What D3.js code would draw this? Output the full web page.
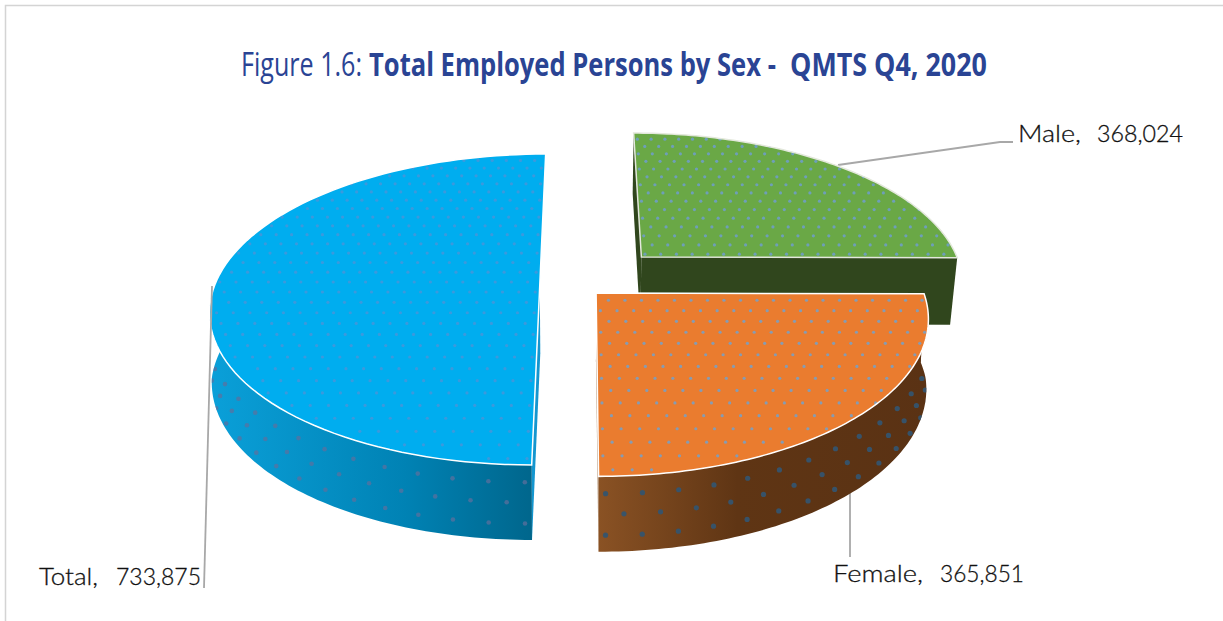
<!DOCTYPE html>
<html><head><meta charset="utf-8">
<script src="https://cdn.jsdelivr.net/npm/d3@7"></script>
<style>html,body{margin:0;padding:0;background:#fff}svg{display:block}</style></head>
<body><svg id="c" width="1223" height="621"></svg>
<script>
const categories = ["Male", "Female", "Total"];
const values = [368024, 365851, 733875];
const colors = ["#6aa846", "#ea7c2f", "#00adef"];
const valueLabels = ["368,024", "365,851", "733,875"];

const W = 1223, H = 621;
const svg = d3.select("#c");
const defs = svg.append("defs");

// camera: ground-plane homography with one vanishing point
const vpX = 583, horizonY0 = 285, A = 151.6, B = 325, K = 0.1575;
const offsets = [[0.185, 0.19], [0.04, -0.053], [-0.133, 0]];
const project = (u, v, z) => {
  const w = 1 + K * v;
  const x = vpX + B * u / w;
  const y = horizonY0 - A * v / w;
  const depth = z * (68.3 - 6.7 * v);
  const shrink = Math.max(0.006, Math.min(0.019, 0.012 + 0.04 * v));
  return [vpX + (x - vpX) * (1 - shrink * z), y + depth];
};

const arcs = d3.pie().sort(null).value(d => d)(values);
const line = d3.line();
const WALL_SPAN = 1.7; // half-width, in radians, of the visible outer wall around the near point

function ringPoints(a0, a1, off, z) {
  const n = 90;
  return d3.range(n + 1).map(i => {
    const a = a0 + (a1 - a0) * i / n;
    return project(off[0] + Math.sin(a), off[1] + Math.cos(a), z);
  });
}

const wallGrad = [
  null,
  [["#8a5224", 0], ["#5f3514", .42], ["#5a3214", 1], 598, 930],
  [["#0a9fd8", 0], ["#0082b4", .6], ["#00668c", 1], 215, 533]
];
wallGrad.forEach((g, i) => {
  if (!g) return;
  const lg = defs.append("linearGradient").attr("id", "wall" + i)
    .attr("gradientUnits", "userSpaceOnUse")
    .attr("x1", g[3]).attr("x2", g[4]).attr("y1", 0).attr("y2", 0);
  g.slice(0, 3).forEach(s => lg.append("stop").attr("offset", s[1]).attr("stop-color", s[0]));
});
const wallFill = ["#30461d", "url(#wall1)", "url(#wall2)"];
const sideFill = ["#30461d", "#a9825f", "#1496cf"];
const topDot = ["#6f9dc4", "#7c9ec0", "#5b8fd2"];
const wallDot = ["#30461d", "#35546e", "#5f6f9c"];

// frame
svg.append("path").attr("d", `M5.5,${H}V5.5H${W}`).attr("fill", "none").attr("stroke", "#d4d4d4").attr("stroke-width", 1.5);

// leader lines
const leaders = [[[838,165],[1000,142],[1013,142]], [[850,486],[850,557]], [[212,286],[204,588]]];
const drawLeader = p => svg.append("path").attr("d", line(p)).attr("fill","none").attr("stroke","#a8a8a8").attr("stroke-width",1.8);
drawLeader(leaders[0]);
drawLeader(leaders[1]);

arcs.forEach((arc, i) => {
  const off = offsets[i];
  const a0 = arc.startAngle, a1 = arc.endAngle;
  const c = svg.append("g").attr("class", "slice").attr("data-name", categories[i]);
  const apexT = project(off[0], off[1], 0), apexB = project(off[0], off[1], 1);
  const top = ringPoints(a0, a1, off, 0), bot = ringPoints(a0, a1, off, 1);

  // radial cut faces
  [[top[0], bot[0]], [top[top.length-1], bot[bot.length-1]]].forEach(([t, b], k) => {
    if (i === 2 && k === 1) return;
    c.append("path").attr("d", line([apexT, t, b, apexB]) + "Z").attr("fill", sideFill[i]);
  });

  // outer wall, front-facing part only
  const wa0 = Math.max(a0, Math.PI - WALL_SPAN);
  const wa1 = Math.min(a1, Math.PI + WALL_SPAN);
  if (wa1 > wa0 && i > 0) {
    const wt = ringPoints(wa0, wa1, off, 0), wb = ringPoints(wa0, wa1, off, 1);
    const wall = line(wt.concat(wb.slice().reverse())) + "Z";
    c.append("path").attr("d", wall).attr("fill", wallFill[i]);
    const wid = "wallclip" + i;
    defs.append("clipPath").attr("id", wid).append("path").attr("d", wall);
    const wd = c.append("g").attr("clip-path", `url(#${wid})`);
    const da = 0.095;
    [0.23, 0.5, 0.78].forEach((zf, r) => {
      d3.range(Math.PI + (r === 1 ? da / 2 : 0) - 30 * da, Math.PI + 30 * da, da).forEach(a => {
        if (a < wa0 || a > wa1) return;
        const p = project(off[0] + Math.sin(a) - (i === 2 ? 0.018 : -0.018), off[1] + Math.cos(a), zf);
        wd.append("circle").attr("cx", p[0]).attr("cy", p[1]).attr("r", i === 2 ? 2.3 : 2.6)
          .attr("fill", wallDot[i]).attr("opacity", i === 2 ? .7 : .95);
      });
    });
  }

  // top face
  const topD = line([apexT].concat(top)) + "Z";
  c.append("path").attr("d", topD).attr("fill", colors[i]);
  const clipId = "clip" + i;
  defs.append("clipPath").attr("id", clipId).append("path").attr("d", topD);
  const dots = c.append("g").attr("clip-path", `url(#${clipId})`);
  const du = 0.05, dv = 0.066;
  d3.range(-16, 17).forEach(r => {
    d3.range(-24, 25).forEach(q => {
      const u = q * du + (r % 2 ? du / 2 : 0), v = r * dv;
      if (u * u + v * v > 1) return;
      const p = project(off[0] + u + 0.012, off[1] + v + 0.02, 0);
      dots.append("circle").attr("cx", p[0]).attr("cy", p[1]).attr("r", 1.6)
        .attr("fill", topDot[i]).attr("opacity", i === 2 ? .65 : .9);
    });
  });
  c.append("path").attr("d", topD).attr("fill", "none").attr("stroke", i === 0 ? "#e3e8dc" : "#fff")
    .attr("stroke-width", 1.5).attr("stroke-linejoin", "miter");
});
drawLeader(leaders[2]);

// fit a text run to a measured horizontal extent
function fitted(str, x0, x1, y, font, weight, size, fill, stroke) {
  const t = svg.append("text").attr("font-family", font).attr("font-weight", weight)
    .attr("font-size", size).attr("fill", fill).text(str);
  if (stroke) t.attr("stroke", fill).attr("stroke-width", stroke);
  const len = t.node().getComputedTextLength();
  t.attr("transform", `translate(${x0},${y}) scale(${(x1 - x0) / len},1)`);
  return t;
}

// labels
const labelFont = "'Lato','Noto Sans',sans-serif";
const catPos = [[1018, 1081, 142], [833, 923, 582], [39, 98, 585]];
const valPos = [[1097, 1183, 142], [940, 1024, 582], [116, 201, 585]];
categories.forEach((n, i) => {
  fitted(n + ",", catPos[i][0], catPos[i][1], catPos[i][2], labelFont, 300, 24, "#111", 0.3);
  fitted(valueLabels[i], valPos[i][0], valPos[i][1], valPos[i][2], labelFont, 300, 24, "#111", 0.3);
});

// title
const titleFont = "'Open Sans','Roboto',sans-serif";
fitted("Figure 1.6:", 241, 362, 76, titleFont, 400, 32, "#2a4494");
fitted("Total Employed Persons by Sex -", 369, 776, 76, titleFont, 700, 32, "#2a4494");
fitted("QMTS Q4, 2020", 790, 987, 76, titleFont, 700, 32, "#2a4494");
</script></body></html>
